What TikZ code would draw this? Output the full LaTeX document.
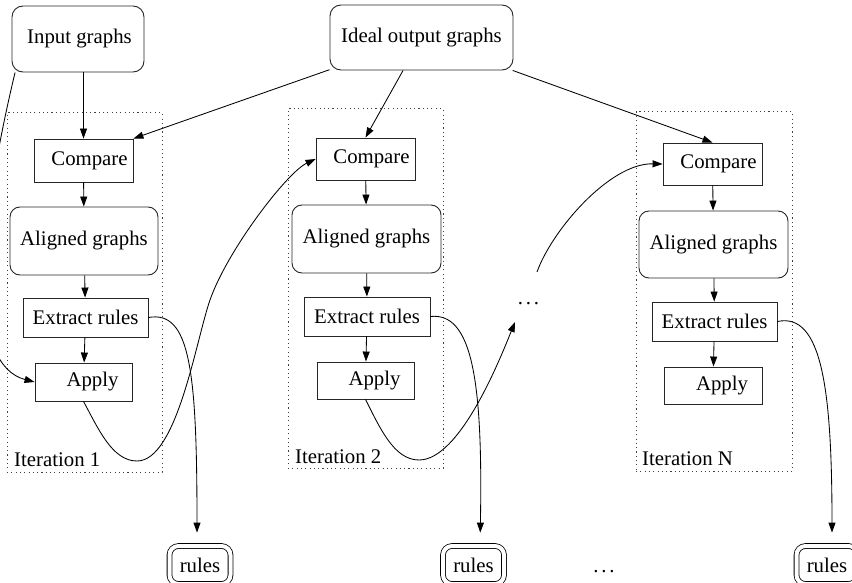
\documentclass[tikz,border=0pt]{standalone}
\usepackage{fontspec}
\setmainfont{Liberation Serif}
\usetikzlibrary{arrows.meta,calc}
\begin{document}
\begin{tikzpicture}[x=1pt,y=-1pt,
  every node/.style={font=\fontsize{20.8}{24}\selectfont},
  blk/.style={draw=black!85, line width=0.9pt, inner sep=0pt},
  rbox/.style={blk, rounded corners=10pt},
  sbox/.style={blk},
  itbox/.style={draw=black!75, line width=1pt, dash pattern=on 1.1pt off 3.2pt, inner sep=0pt},
  rulesbox/.style={draw=black, line width=0.8pt, double=white, double distance=4pt,
    rounded corners=9pt, minimum width=61pt, minimum height=38pt, inner sep=0pt},
  lbl/.style={anchor=base west, inner sep=0pt},
  conn/.style={line width=0.85pt, -{Triangle[length=10pt,width=7pt]}},
  torules/.style={conn, shorten >=13pt}
]
\useasboundingbox (0,0) rectangle (852,583);

% sources
\node[rbox, rounded corners=11pt, minimum width=132pt, minimum height=66pt] (inp) at (78,39) {\hspace*{3pt}Input graphs};
\node[rbox, rounded corners=11pt, minimum width=183pt, minimum height=65pt] (ideal) at (421.5,37.5) {Ideal output graphs};

% iteration frames
\node[itbox, minimum width=155pt, minimum height=359pt] (it1) at (84.5,292.5) {};
\node[itbox, minimum width=155pt, minimum height=359pt] (it2) at (365.5,288.5) {};
\node[itbox, minimum width=156pt, minimum height=359pt] (itN) at (714,291.5) {};
\node[lbl] (lab1) at (14,466) {Iteration 1};
\node[lbl] (lab2) at (295,463) {Iteration 2};
\node[lbl] (labN) at (642,465) {Iteration N};

% iteration 1
\node[sbox, minimum width=99pt, minimum height=43pt] (cmp1) at (83.5,160.5) {\hspace*{12pt}Compare};
\node[rbox, minimum width=148pt, minimum height=68pt] (al1) at (84,241) {Aligned graphs};
\node[sbox, minimum width=125pt, minimum height=39pt] (ex1) at (85.5,317.5) {Extract rules};
\node[sbox, minimum width=97pt, minimum height=38pt] (ap1) at (83.5,382) {\hspace*{18pt}Apply};

% iteration 2
\node[sbox, minimum width=99pt, minimum height=42pt] (cmp2) at (365.5,159) {\hspace*{12pt}Compare};
\node[rbox, minimum width=149pt, minimum height=68pt] (al2) at (366.5,239) {Aligned graphs};
\node[sbox, minimum width=126pt, minimum height=39pt] (ex2) at (367,316.5) {Extract rules};
\node[sbox, minimum width=97pt, minimum height=37pt] (ap2) at (365.5,380.5) {\hspace*{18pt}Apply};

% iteration N
\node[sbox, minimum width=99pt, minimum height=42pt] (cmpN) at (712.5,164) {\hspace*{12pt}Compare};
\node[rbox, minimum width=149pt, minimum height=67pt] (alN) at (713.5,244.5) {Aligned graphs};
\node[sbox, minimum width=125pt, minimum height=39pt] (exN) at (714.5,321.5) {Extract rules};
\node[sbox, minimum width=98pt, minimum height=37pt] (apN) at (713,385.5) {\hspace*{18pt}Apply};

% elided iterations
\node[anchor=base, inner sep=0pt] (dots1) at (528.5,304) {.\kern2.8pt.\kern2.8pt.};
\node[anchor=base, inner sep=0pt] (dots2) at (604,572) {.\kern2.8pt.\kern2.8pt.};
\coordinate (d1in) at (515,322);
\coordinate (d1out) at (537,272);

% rule sets
\node[rulesbox] (rules1) at (200,565) {rules};
\node[rulesbox] (rules2) at (473.5,565) {rules};
\node[rulesbox] (rulesN) at (827,565) {rules};

% inputs into the iterations
\draw[conn] (cmp1.north |- inp.south) -- (cmp1.north);
\draw[conn] (inp.208) .. controls (-25,240) and (-30,365) .. (ap1.west);
\draw[conn] (ideal) -- (cmp1.north east);
\draw[conn] (ideal) -- (cmp2.north);
\draw[conn] (ideal) -- (cmpN.north);

% steps within each iteration
\draw[conn] (cmp1) -- (al1);
\draw[conn] (al1) -- (ex1);
\draw[conn] (ex1) -- (ap1);
\draw[conn] (cmp2) -- (al2);
\draw[conn] (al2) -- (ex2);
\draw[conn] (ex2) -- (ap2);
\draw[conn] (cmpN) -- (alN);
\draw[conn] (alN) -- (exN);
\draw[conn] (exN) -- (apN);

% output of one iteration feeds the next
\draw[conn] (ap1.south) .. controls (98,428) and (112,461) .. (137,461)
  .. controls (177,461) and (196,340) .. (210,300)
  .. controls (227.5,250) and (287,172.5) .. (cmp2.west);
\draw[conn] (ap2.south) .. controls (380,428) and (394,460) .. (419,460)
  .. controls (460,460) and (500,359) .. (d1in);
\draw[conn] (d1out) .. controls (552,230) and (610,163) .. (cmpN.west);

% extracted rules
\draw[torules] (ex1.east) .. controls (190,310) and (197,370) .. ($(rules1.north)+(-3,0)$);
\draw[torules] (ex2.east) .. controls (472,312) and (483,380) .. ($(rules2.north)+(6.5,0)$);
\draw[torules] (exN.east) .. controls (822,312) and (832,390) .. ($(rulesN.north)+(5,0)$);
\end{tikzpicture}
\end{document}
